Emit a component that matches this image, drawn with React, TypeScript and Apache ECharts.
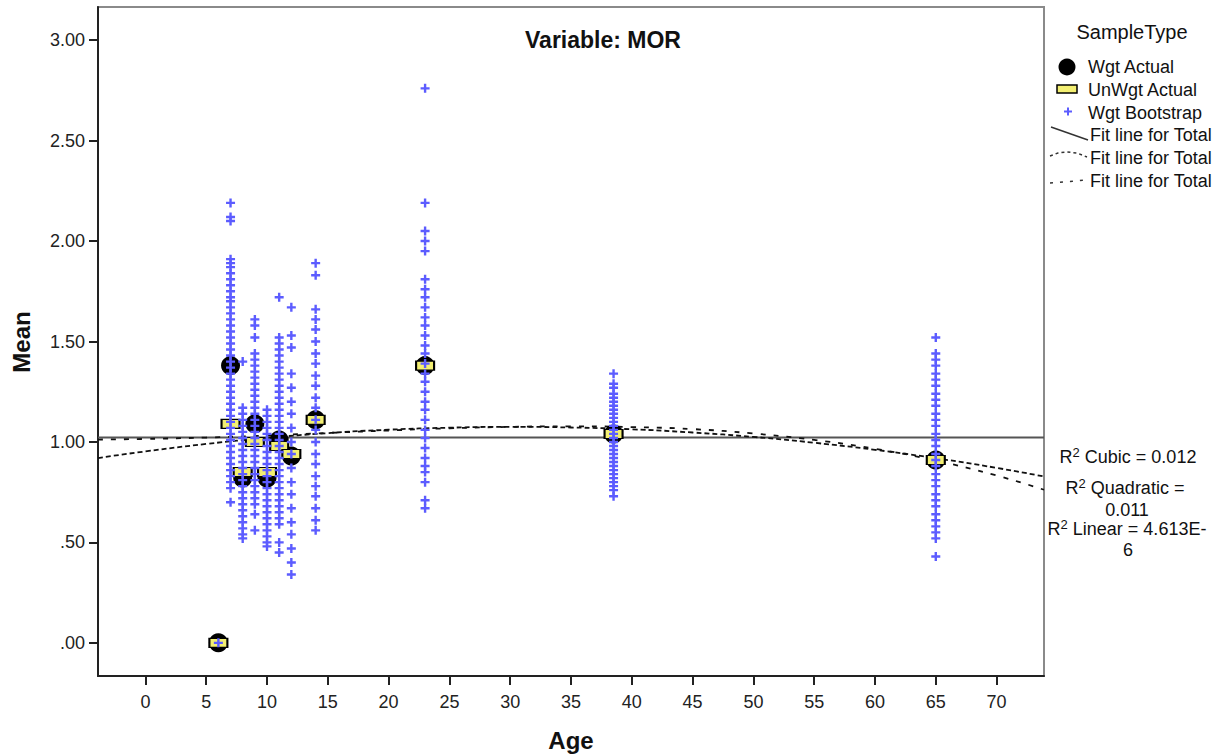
import React, { useEffect, useRef } from 'react';
import * as echarts from 'echarts';

// ---- data ----
const ages = [6, 7, 8, 9, 10, 11, 12, 14, 23, 38.5, 65];
const wgtActual = [0.0, 1.38, 0.82, 1.09, 0.82, 1.01, 0.93, 1.11, 1.38, 1.04, 0.91];
const unwgtActual = [0.0, 1.09, 0.85, 1.0, 0.85, 0.98, 0.94, 1.11, 1.38, 1.04, 0.91];

const boot6 = [0.0];
const boot7 = [2.19, 2.12, 2.1, 1.91, 1.89, 1.87, 1.84, 1.81, 1.78, 1.75, 1.72, 1.7, 1.67, 1.64, 1.61, 1.58, 1.55, 1.52, 1.49, 1.46, 1.43, 1.4, 1.37, 1.34, 1.31, 1.28, 1.25, 1.22, 1.19, 1.16, 1.13, 1.1, 1.07, 1.04, 1.01, 0.98, 0.95, 0.92, 0.89, 0.86, 0.83, 0.8, 0.77, 0.7];
const boot8 = [1.4, 1.17, 1.14, 1.11, 1.08, 1.05, 1.02, 0.99, 0.96, 0.93, 0.9, 0.87, 0.84, 0.81, 0.78, 0.75, 0.72, 0.69, 0.66, 0.63, 0.6, 0.57, 0.54, 0.52];
const boot9 = [1.61, 1.58, 1.52, 1.44, 1.41, 1.38, 1.35, 1.32, 1.29, 1.26, 1.23, 1.2, 1.17, 1.14, 1.11, 1.08, 1.05, 1.02, 0.99, 0.96, 0.93, 0.9, 0.87, 0.84, 0.81, 0.78, 0.75, 0.72, 0.69, 0.64, 0.56];
const boot10 = [1.16, 1.13, 1.1, 1.07, 1.04, 1.01, 0.98, 0.95, 0.92, 0.89, 0.86, 0.83, 0.8, 0.77, 0.74, 0.71, 0.68, 0.65, 0.62, 0.59, 0.56, 0.53, 0.5, 0.48];
const boot11 = [1.72, 1.52, 1.49, 1.46, 1.43, 1.4, 1.37, 1.34, 1.31, 1.28, 1.25, 1.22, 1.19, 1.16, 1.13, 1.1, 1.07, 1.04, 1.01, 0.98, 0.95, 0.92, 0.89, 0.86, 0.83, 0.8, 0.77, 0.74, 0.71, 0.68, 0.65, 0.62, 0.59, 0.5, 0.45];
const boot12 = [1.67, 1.53, 1.47, 1.34, 1.27, 1.2, 1.14, 1.07, 1.0, 0.94, 0.87, 0.8, 0.74, 0.67, 0.6, 0.54, 0.47, 0.4, 0.34];
const boot14 = [1.89, 1.83, 1.66, 1.61, 1.56, 1.5, 1.44, 1.39, 1.33, 1.28, 1.22, 1.17, 1.11, 1.06, 1.0, 0.94, 0.89, 0.83, 0.78, 0.73, 0.67, 0.61, 0.56];
const boot23 = [2.76, 2.19, 2.05, 2.0, 1.95, 1.81, 1.76, 1.72, 1.67, 1.62, 1.58, 1.53, 1.48, 1.44, 1.39, 1.34, 1.3, 1.25, 1.2, 1.16, 1.11, 1.06, 1.02, 0.97, 0.92, 0.88, 0.85, 0.8, 0.71, 0.67];
const boot38 = [1.34, 1.29, 1.27, 1.24, 1.22, 1.2, 1.18, 1.16, 1.14, 1.12, 1.1, 1.08, 1.06, 1.04, 1.02, 1.0, 0.98, 0.96, 0.94, 0.92, 0.9, 0.88, 0.86, 0.84, 0.82, 0.8, 0.78, 0.76, 0.73];
const boot65 = [1.52, 1.44, 1.41, 1.38, 1.34, 1.31, 1.28, 1.24, 1.21, 1.18, 1.14, 1.11, 1.08, 1.04, 1.01, 0.98, 0.94, 0.91, 0.88, 0.84, 0.81, 0.78, 0.74, 0.71, 0.68, 0.64, 0.61, 0.58, 0.55, 0.52, 0.43];
const bootByAge = [boot6, boot7, boot8, boot9, boot10, boot11, boot12, boot14, boot23, boot38, boot65];

const fitX = [-3.9, 0, 5, 10, 15, 20, 25, 30, 35, 40, 45, 50, 55, 60, 65, 70, 73.9];
const quadFit = [0.92, 0.953, 0.99, 1.02, 1.044, 1.061, 1.071, 1.075, 1.072, 1.063, 1.047, 1.025, 0.996, 0.961, 0.919, 0.871, 0.828];
const cubicFit = [1.012, 1.015, 1.022, 1.032, 1.045, 1.057, 1.068, 1.075, 1.078, 1.074, 1.064, 1.042, 1.01, 0.966, 0.907, 0.833, 0.762];
const linearX = [-3.9, 73.9];
const linearFit = [1.022, 1.022];

const xTicks = [0, 5, 10, 15, 20, 25, 30, 35, 40, 45, 50, 55, 60, 65, 70];
const yTicks = [0, 0.5, 1.0, 1.5, 2.0, 2.5, 3.0];

const FONT = '"Liberation Sans", Arial, sans-serif';
const BLUE = '#5c5cff';
const YELLOW = '#f3ef72';
const CROSS = 'path://M3.3,0H5.7V3.3H9V5.7H5.7V9H3.3V5.7H0V3.3H3.3Z';

export default function App() {
  const ref = useRef<HTMLDivElement>(null);
  useEffect(() => {
    if (!ref.current) return;
    const chart = echarts.init(ref.current, undefined, { renderer: 'svg' });
    const bootData: number[][] = [];
    ages.forEach((a, i) => bootByAge[i].forEach((v) => bootData.push([a, v])));
    const txt = (text: string, x: number, y: number, extra: any = {}) => ({
      type: 'text',
      x,
      y,
      style: {
        text,
        fontFamily: FONT,
        fontSize: 18,
        fill: '#111',
        textVerticalAlign: 'middle',
        ...extra,
      },
    });
    const rich = {
      n: { fontSize: 18, lineHeight: 22, fontFamily: FONT, fill: '#111' },
      s: { fontSize: 13, lineHeight: 13, verticalAlign: 'top', fontFamily: FONT, fill: '#111' },
    };
    chart.setOption({
      animation: false,
      backgroundColor: '#fff',
      grid: {
        left: 98,
        right: 181,
        top: 7,
        bottom: 79,
        show: true,
        borderColor: '#8a8a8a',
        borderWidth: 2,
        containLabel: false,
      },
      xAxis: {
        type: 'value',
        min: -3.9,
        max: 73.9,
        axisLine: { show: true, onZero: false, lineStyle: { color: '#222', width: 2 } },
        axisTick: { show: true, customValues: xTicks, length: 9, lineStyle: { color: '#222', width: 2 } },
        axisLabel: { customValues: xTicks, margin: 17, fontSize: 18, fontFamily: FONT, color: '#222' },
        splitLine: { show: false },
      },
      yAxis: {
        type: 'value',
        min: -0.165,
        max: 3.165,
        axisLine: { show: true, onZero: false, lineStyle: { color: '#222', width: 2 } },
        axisTick: { show: true, customValues: yTicks, length: 9, lineStyle: { color: '#222', width: 2 } },
        axisLabel: {
          customValues: yTicks,
          margin: 13,
          fontSize: 18,
          fontFamily: FONT,
          color: '#222',
          formatter: (v: number) => v.toFixed(2).replace(/^0/, ''),
        },
        splitLine: { show: false },
      },
      series: [
        {
          type: 'line',
          data: linearX.map((x, i) => [x, linearFit[i]]),
          showSymbol: false,
          lineStyle: { color: '#555', width: 2 },
          z: 1,
        },
        {
          type: 'line',
          data: fitX.map((x, i) => [x, quadFit[i]]),
          showSymbol: false,
          smooth: true,
          lineStyle: { color: '#111', width: 1.8, type: [5, 3] },
          z: 1,
        },
        {
          type: 'line',
          data: fitX.map((x, i) => [x, cubicFit[i]]),
          showSymbol: false,
          smooth: true,
          lineStyle: { color: '#111', width: 1.8, type: [5, 8] },
          z: 1,
        },
        {
          type: 'scatter',
          data: ages.map((a, i) => [a, wgtActual[i]]),
          symbol: 'circle',
          symbolSize: 19,
          itemStyle: { color: '#000', opacity: 1 },
          z: 2,
        },
        {
          type: 'scatter',
          data: ages.map((a, i) => [a, unwgtActual[i]]),
          symbol: 'rect',
          symbolSize: [18, 9],
          itemStyle: { color: YELLOW, borderColor: '#000', borderWidth: 1.5, opacity: 1 },
          z: 3,
        },
        {
          type: 'scatter',
          data: bootData,
          symbol: CROSS,
          symbolSize: 9,
          itemStyle: { color: BLUE, opacity: 1 },
          z: 4,
        },
      ],
      graphic: [
        txt('Variable: MOR', 603, 40, { fontSize: 23, fontWeight: 'bold', textAlign: 'center', fill: '#111' }),
        txt('Age', 571, 740, { fontSize: 24, fontWeight: 'bold', textAlign: 'center' }),
        {
          type: 'text',
          x: 21,
          y: 342,
          rotation: Math.PI / 2,
          style: {
            text: 'Mean',
            fontFamily: FONT,
            fontSize: 24,
            fontWeight: 'bold',
            fill: '#111',
            textAlign: 'center',
            textVerticalAlign: 'middle',
          },
        },
        // legend
        txt('SampleType', 1132, 32, { fontSize: 20, textAlign: 'center' }),
        { type: 'circle', shape: { cx: 1067, cy: 67, r: 8.5 }, style: { fill: '#000' } },
        txt('Wgt Actual', 1088, 67),
        { type: 'rect', shape: { x: 1057, y: 85, width: 20, height: 8 }, style: { fill: YELLOW, stroke: '#000', lineWidth: 1.5 } },
        txt('UnWgt Actual', 1088, 90),
        { type: 'rect', shape: { x: 1064, y: 110.5, width: 8, height: 2 }, style: { fill: BLUE } },
        { type: 'rect', shape: { x: 1067, y: 107.5, width: 2, height: 8 }, style: { fill: BLUE } },
        txt('Wgt Bootstrap', 1088, 113),
        { type: 'line', shape: { x1: 1051, y1: 127, x2: 1088, y2: 140 }, style: { stroke: '#333', lineWidth: 1.5 } },
        txt('Fit line for Total', 1090, 135),
        {
          type: 'polyline',
          shape: { points: [[1050, 156], [1058, 153], [1067, 152], [1077, 153], [1087, 157]] },
          style: { stroke: '#333', lineWidth: 1.5, fill: null, lineDash: [3, 3] },
        },
        txt('Fit line for Total', 1090, 158),
        {
          type: 'polyline',
          shape: { points: [[1050, 183], [1087, 180]] },
          style: { stroke: '#333', lineWidth: 1.5, fill: null, lineDash: [3, 7] },
        },
        txt('Fit line for Total', 1090, 181),
        // R squared annotations
        {
          type: 'text',
          x: 1128,
          y: 457,
          style: { text: '{n|R}{s|2}{n| Cubic = 0.012}', rich, textAlign: 'center', textVerticalAlign: 'middle' },
        },
        {
          type: 'text',
          x: 1125,
          y: 488,
          style: { text: '{n|R}{s|2}{n| Quadratic =}', rich, textAlign: 'center', textVerticalAlign: 'middle' },
        },
        txt('0.011', 1127, 510, { textAlign: 'center' }),
        {
          type: 'text',
          x: 1127,
          y: 529,
          style: { text: '{n|R}{s|2}{n| Linear = 4.613E-}', rich, textAlign: 'center', textVerticalAlign: 'middle' },
        },
        txt('6', 1128, 550, { textAlign: 'center' }),
      ],
    });
    return () => chart.dispose();
  }, []);
  return (
    <div
      ref={ref}
      style={{ position: 'fixed', left: 0, top: 0, width: 1225, height: 755, background: '#fff' }}
    />
  );
}
